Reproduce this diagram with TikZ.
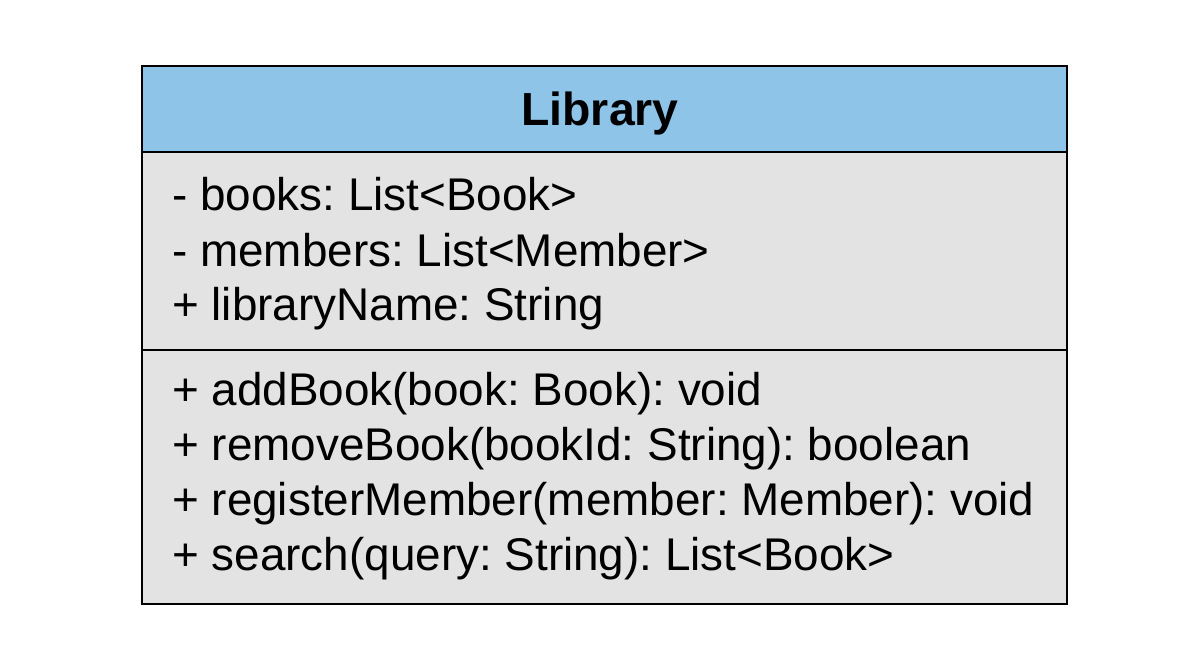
\documentclass[tikz,border=0pt]{standalone}
\usepackage{fontspec}
\setmainfont{Liberation Sans}
\frenchspacing
\tikzset{
  member/.style={anchor=base west, inner sep=0pt, font=\fontsize{32.6}{39}\selectfont},
  title/.style={anchor=base, inner sep=0pt, font=\fontsize{33}{39}\selectfont\bfseries},
}
\definecolor{headblue}{HTML}{8DC4E8}
\definecolor{bodygray}{HTML}{E3E3E3}

\begin{document}
\begin{tikzpicture}[x=0.025cm, y=-0.025cm]
    \useasboundingbox[fill=white] (0,0) rectangle (1200,670);
    % class box
    \fill[bodygray] (142,66) rectangle (1067,604);
    \fill[headblue] (142,66) rectangle (1067,152);
    \draw[line width=1.7pt] (142,66) rectangle (1067,604);
    \draw[line width=1.7pt] (142,152) -- (1067,152);
    \draw[line width=1.7pt] (142,350) -- (1067,350);

    \node[title] (name) at (600,125) {Library};

    % attributes
    \node[member] (books)   at (172,210) {- books: List<Book>};
    \node[member] (members) at (172,266) {- members: List<Member>};
    \node[member] (libname) at (172,320) {+ libraryName: String};

    % operations
    \node[member] (addbook)  at (172,405) {+ addBook(book: Book): void};
    \node[member] (rmbook)   at (172,460) {+ removeBook(bookId: String): boolean};
    \node[member] (register) at (172,515) {+ registerMember(member: Member): void};
    \node[member] (search)   at (172,570) {+ search(query: String): List<Book>};
\end{tikzpicture}
\end{document}
